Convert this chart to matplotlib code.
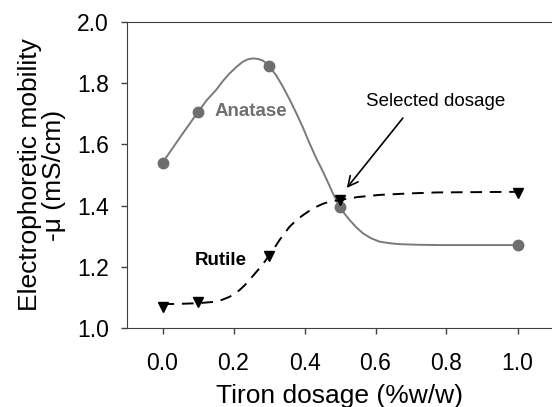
import matplotlib
matplotlib.use("Agg")
import matplotlib.pyplot as plt
import numpy as np

plt.rcParams['font.family'] = ['Liberation Sans', 'DejaVu Sans']

# measured points
dosage = [0.0, 0.1, 0.3, 0.5, 1.0]
anatase = [1.540, 1.706, 1.856, 1.396, 1.271]
rutile = [1.070, 1.086, 1.235, 1.418, 1.442]

# fitted curves
anatase_fit_x = [0.0, 0.05, 0.1, 0.125, 0.151, 0.17, 0.189, 0.208, 0.226, 0.24, 0.255,
                 0.27, 0.283, 0.3, 0.32, 0.339, 0.358, 0.377, 0.396, 0.414, 0.433, 0.452,
                 0.466, 0.48, 0.499, 0.513, 0.527, 0.546, 0.565, 0.588, 0.612, 0.64,
                 0.668, 0.72, 0.781, 0.9, 1.0]
anatase_fit_y = [1.540, 1.624, 1.706, 1.745, 1.778, 1.807, 1.832, 1.853, 1.870, 1.878, 1.881,
                 1.879, 1.874, 1.856, 1.826, 1.789, 1.747, 1.702, 1.654, 1.604, 1.555, 1.511,
                 1.476, 1.440, 1.396, 1.373, 1.353, 1.329, 1.309, 1.293, 1.282, 1.277,
                 1.274, 1.272, 1.271, 1.271, 1.271]
rutile_fit_x = [0.0, 0.05, 0.1, 0.151, 0.17, 0.189, 0.203, 0.217, 0.231, 0.245, 0.259,
                0.273, 0.288, 0.302, 0.316, 0.330, 0.344, 0.358, 0.377, 0.396, 0.415,
                0.433, 0.452, 0.471, 0.499, 0.55, 0.612, 0.7, 0.772, 0.88, 1.0]
rutile_fit_y = [1.078, 1.079, 1.081, 1.086, 1.093, 1.102, 1.112, 1.124, 1.139, 1.157, 1.176,
                1.195, 1.217, 1.239, 1.263, 1.288, 1.310, 1.331, 1.352, 1.369, 1.384,
                1.396, 1.406, 1.413, 1.418, 1.428, 1.435, 1.440, 1.443, 1.444, 1.445]

fig = plt.figure(figsize=(5.52, 4.07), dpi=100)
ax = fig.add_axes([127 / 552, 79 / 407, 426 / 552, 306 / 407])

ax.plot(anatase_fit_x, anatase_fit_y, color='#7a7a7a', lw=1.4, zorder=2)
ax.plot(rutile_fit_x, rutile_fit_y, color='black', lw=1.4, dashes=(6, 4), zorder=2)
ax.plot(dosage, anatase, 'o', color='#6e6e6e', ms=7.5, zorder=3)
ax.plot(dosage, rutile, 'v', color='black', ms=7.5, zorder=3)

ax.text(0.248, 1.706, 'Anatase', color='#707070', fontsize=13.5, fontweight='bold',
        ha='center', va='center')
ax.text(0.163, 1.222, 'Rutile', color='black', fontsize=13.5, fontweight='bold',
        ha='center', va='center')
ax.text(0.77, 1.739, 'Selected dosage', fontsize=13.5, ha='center', va='center')
ax.annotate('', xy=(0.519, 1.4575), xytext=(0.677, 1.686),
            arrowprops=dict(arrowstyle='->', color='black', lw=1.2,
                            shrinkA=0, shrinkB=0, mutation_scale=18))

ax.set_xlim(-0.1, 1.1)
ax.set_ylim(1.0, 2.0)
ax.set_xticks(np.arange(0, 1.01, 0.2))
ax.set_yticks(np.arange(1.0, 2.01, 0.2))
ax.xaxis.set_major_formatter(matplotlib.ticker.FormatStrFormatter('%.1f'))
ax.yaxis.set_major_formatter(matplotlib.ticker.FormatStrFormatter('%.1f'))
ax.tick_params(direction='out', length=4, width=1, color='#404040', labelsize=16.5)
ax.tick_params(axis='x', pad=13)
ax.tick_params(axis='y', pad=9)
for s in ['left', 'top', 'bottom']:
    ax.spines[s].set_color('#404040')
ax.spines['right'].set_visible(False)

ax.set_xlabel('Tiron dosage (%w/w)', fontsize=19, labelpad=7)
ax.set_ylabel('Electrophoretic mobility\n-\u03bc (mS/cm)', fontsize=19, labelpad=8,
              linespacing=1.0)

fig.savefig('out.png', dpi=100)
